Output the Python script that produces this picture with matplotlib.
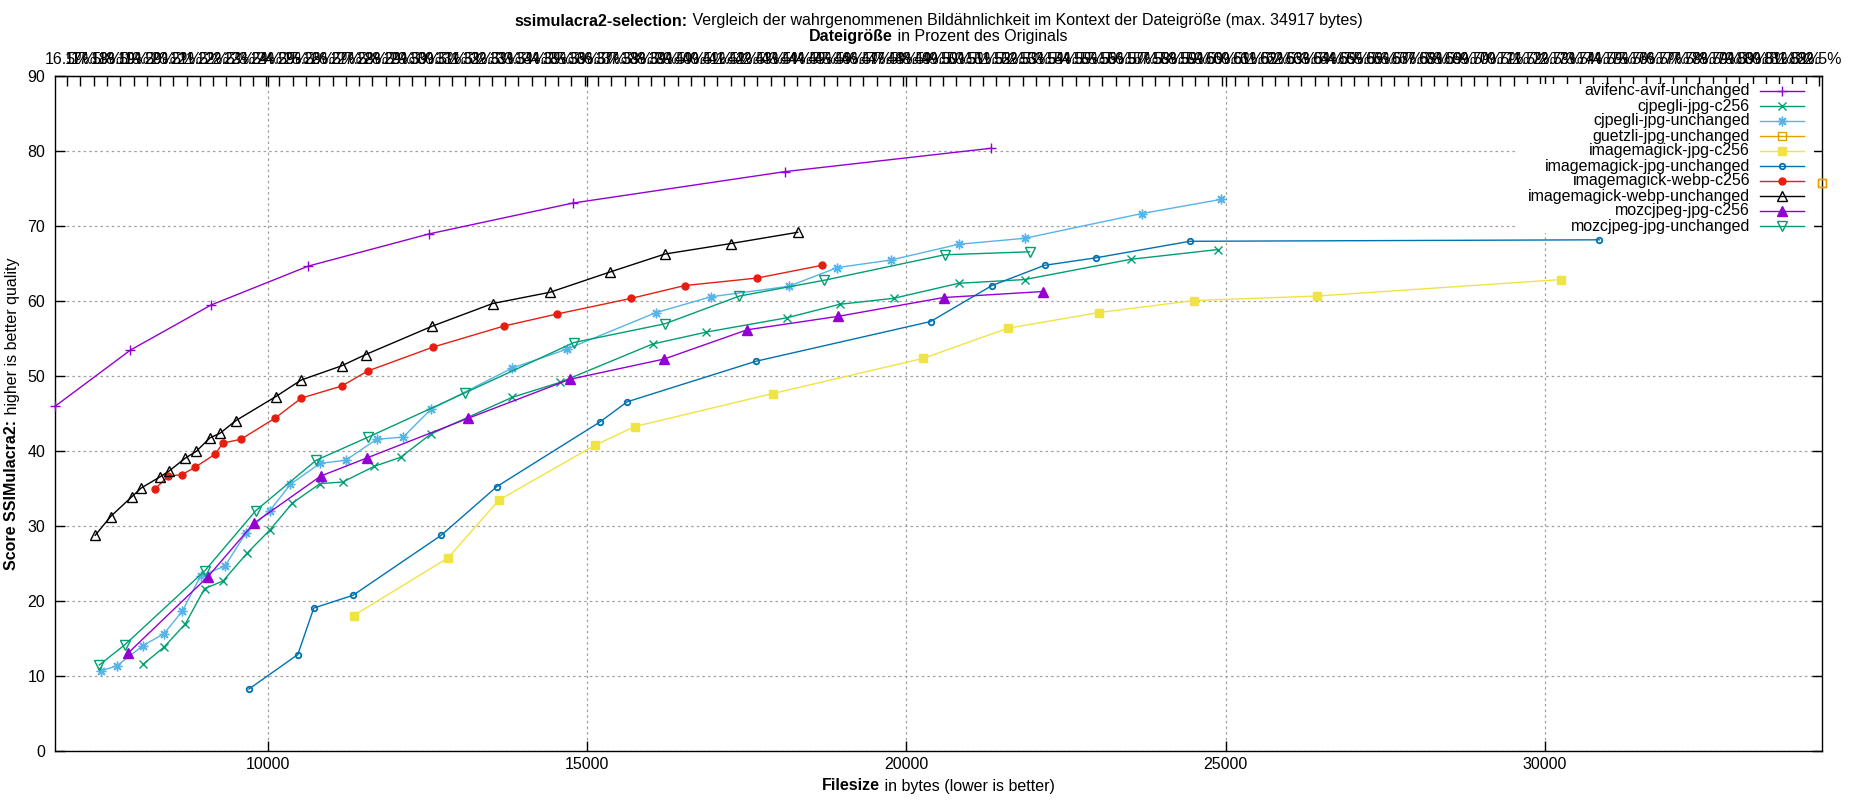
import matplotlib
matplotlib.use("Agg")
import matplotlib.pyplot as plt
import matplotlib.ticker as ticker
from matplotlib.lines import Line2D
from matplotlib.patches import Rectangle

plt.rcParams['font.family'] = ['Liberation Sans', 'DejaVu Sans']
plt.rcParams['font.size'] = 11.5

# values (filesize in bytes, ssimulacra2 score)
avif_x = [6667, 7849, 9109, 10635, 12531, 14776, 18105, 21320]
avif_y = [46.0, 53.5, 59.5, 64.7, 69.0, 73.1, 77.3, 80.4]

cjpegli_c256_x = [8047, 8375, 8708, 9010, 9297, 9672, 10031, 10385, 10818, 11172, 11667, 12078,
                  12552, 13826, 14577, 16023, 16868, 18125, 18954, 19800, 20815, 21850, 23511, 24875]
cjpegli_c256_y = [11.6, 13.9, 17.0, 21.7, 22.7, 26.4, 29.5, 33.1, 35.7, 35.9, 38.0, 39.2,
                  42.3, 47.2, 49.2, 54.3, 55.9, 57.8, 59.6, 60.4, 62.4, 62.9, 65.6, 66.9]

cjpegli_unch_x = [7380, 7636, 8047, 8375, 8661, 8948, 9328, 9656, 10031, 10354, 10818, 11219, 11703,
                  12120, 12552, 13826, 14677, 16080, 16936, 18156, 18918, 19753, 20815, 21850, 23684, 24932]
cjpegli_unch_y = [10.7, 11.4, 14.1, 15.7, 18.7, 23.4, 24.7, 29.1, 32.1, 35.6, 38.4, 38.8, 41.6,
                  41.9, 45.6, 51.1, 53.6, 58.5, 60.6, 62.0, 64.5, 65.5, 67.6, 68.4, 71.7, 73.6]

guetzli_x = [34340]
guetzli_y = [75.8]

im_jpg_c256_x = [11344, 12823, 13617, 15120, 15746, 17906, 20266, 21583, 23010, 24499, 26427, 30251]
im_jpg_c256_y = [18.1, 25.8, 33.5, 40.8, 43.3, 47.7, 52.4, 56.4, 58.5, 60.1, 60.7, 62.9]

im_jpg_unch_x = [9703, 10469, 10719, 11333, 12714, 13586, 15198, 15626, 17640, 20376, 21338, 22163,
                 22968, 24436, 30847]
im_jpg_unch_y = [8.3, 12.9, 19.1, 20.8, 28.8, 35.3, 43.9, 46.6, 52.0, 57.3, 62.1, 64.8, 65.8, 68.0, 68.2]

webp_c256_x = [8234, 8443, 8656, 8865, 9172, 9297, 9578, 10109, 10526, 11156, 11562, 12588,
               13696, 14525, 15694, 16529, 17661, 18678]
webp_c256_y = [35.0, 36.7, 36.9, 37.9, 39.6, 41.1, 41.6, 44.4, 47.1, 48.7, 50.7, 53.9,
               56.7, 58.3, 60.4, 62.1, 63.1, 64.8]

webp_unch_x = [7297, 7537, 7865, 8016, 8313, 8458, 8708, 8880, 9094, 9250, 9500, 10125, 10521,
               11156, 11531, 12578, 13518, 14416, 15355, 16216, 17249, 18297]
webp_unch_y = [28.8, 31.3, 33.9, 35.1, 36.6, 37.4, 39.1, 40.0, 41.8, 42.4, 44.1, 47.3, 49.5,
               51.4, 52.9, 56.7, 59.7, 61.2, 63.9, 66.3, 67.7, 69.2]

moz_c256_x = [7812, 9063, 9781, 10828, 11547, 13135, 14729, 16205, 17504, 18934, 20580, 22132]
moz_c256_y = [13.1, 23.3, 30.4, 36.7, 39.1, 44.4, 49.6, 52.3, 56.2, 58.0, 60.5, 61.3]

moz_unch_x = [7359, 7760, 9016, 9812, 10755, 11573, 13088, 14791, 16216, 17384, 18709, 20596, 21928]
moz_unch_y = [11.5, 14.2, 24.1, 32.1, 38.8, 41.9, 47.8, 54.5, 57.0, 60.7, 62.8, 66.2, 66.6]

ORIGINAL_BYTES = 41560

series = [
    ('avifenc-avif-unchanged', avif_x, avif_y, '#9400d3', dict(marker='+', ms=7)),
    ('cjpegli-jpg-c256', cjpegli_c256_x, cjpegli_c256_y, '#009e73', dict(marker='x', ms=5.5)),
    ('cjpegli-jpg-unchanged', cjpegli_unch_x, cjpegli_unch_y, '#56b4e9', dict(marker=(8, 2, 0), ms=7)),
    ('guetzli-jpg-unchanged', guetzli_x, guetzli_y, '#e69f00', dict(marker='s', ms=5.5, mfc='none')),
    ('imagemagick-jpg-c256', im_jpg_c256_x, im_jpg_c256_y, '#f0e442', dict(marker='s', ms=5.5)),
    ('imagemagick-jpg-unchanged', im_jpg_unch_x, im_jpg_unch_y, '#0072b2', dict(marker='o', ms=4, mfc='none', mew=1.3)),
    ('imagemagick-webp-c256', webp_c256_x, webp_c256_y, '#e51e10', dict(marker='o', ms=5)),
    ('imagemagick-webp-unchanged', webp_unch_x, webp_unch_y, 'black', dict(marker='^', ms=6.5, mfc='none')),
    ('mozcjpeg-jpg-c256', moz_c256_x, moz_c256_y, '#9400d3', dict(marker='^', ms=6.5)),
    ('mozcjpeg-jpg-unchanged', moz_unch_x, moz_unch_y, '#009e73', dict(marker='v', ms=6.5, mfc='none')),
]


def style(mk):
    st = dict(lw=1, mew=1)
    st.update(mk)
    return st


W, H = 1850, 800
fig = plt.figure(figsize=(W / 100, H / 100), dpi=100)
ax = fig.add_axes([55 / W, 1 - 751.3 / H, (1822.3 - 55) / W, (751.3 - 76.3) / H])

for name, xs, ys, col, mk in series:
    ax.plot(xs, ys, color=col, zorder=3, clip_on=False, **style(mk))

allx = [v for s in series for v in s[1]]
ax.set_xlim(min(allx), max(allx))
ax.set_ylim(0, 90)

ax.xaxis.set_major_locator(ticker.MultipleLocator(5000))
ax.yaxis.set_major_locator(ticker.MultipleLocator(10))
ax.grid(True, color='#a0a0a0', linestyle=(0, (2, 2.5)), lw=0.9)
ax.tick_params(direction='in', length=7, width=1, top=True, right=True, labelsize=11.5)
ax.tick_params(axis='x', pad=4)
ax.tick_params(axis='y', pad=7)
for sp in ax.spines.values():
    sp.set_linewidth(1)

sec = ax.secondary_xaxis('top', functions=(lambda x: x / ORIGINAL_BYTES * 100,
                                           lambda p: p * ORIGINAL_BYTES / 100))
sec.xaxis.set_major_locator(ticker.MultipleLocator(0.5))
sec.xaxis.set_major_formatter(ticker.FuncFormatter(lambda v, p: f'{v:g}%'))
sec.tick_params(direction='in', length=7, width=1, pad=7, labelsize=11.5)

# legend (gnuplot style: text right-aligned, sample on the right)
fig.add_artist(Rectangle((1517 / W, 1 - 233 / H), (1814 - 1517) / W, (233 - 84) / H,
                         transform=fig.transFigure, facecolor='white', edgecolor='none', zorder=1))
for i, (name, xs, ys, col, mk) in enumerate(series):
    yy = 1 - (91 + 15 * i) / H
    fig.text(1750 / W, yy, name, ha='right', va='center', zorder=3)
    fig.add_artist(Line2D([1760 / W, 1782 / W, 1804 / W], [yy] * 3, color=col,
                          markevery=[1], transform=fig.transFigure, zorder=3, **style(mk)))

# guetzli point sits on the border, above the legend box
ax.plot(guetzli_x, guetzli_y, ls='none', color='#e69f00', marker='s', ms=5.5, mfc='none', mew=1,
        zorder=10, clip_on=False)


def rich(x_px, y_px, parts, rotation=0):
    # draw bold/normal pieces next to each other, centred on (x_px, y_px)
    r = fig.canvas.get_renderer()
    widths = []
    for s, wgt in parts:
        t = fig.text(0, 0, s, fontweight=wgt)
        widths.append(t.get_window_extent(r).width)
        t.remove()
    pos = -sum(widths) / 2
    for (s, wgt), w in zip(parts, widths):
        if rotation == 0:
            fig.text((x_px + pos) / W, 1 - y_px / H, s, fontweight=wgt, ha='left', va='center')
        else:
            fig.text(x_px / W, 1 - (y_px - pos) / H, s, fontweight=wgt, ha='left', va='center',
                     rotation=90, rotation_mode='anchor')
        pos += w


fig.canvas.draw()
rich(938.5, 21, [('ssimulacra2-selection:', 'bold'),
                 (' Vergleich der wahrgenommenen Bildähnlichkeit im Kontext der Dateigröße (max. 34917 bytes)', 'normal')])
rich(938.5, 37, [('Dateigröße', 'bold'), (' in Prozent des Originals', 'normal')])
rich(938.5, 786, [('Filesize', 'bold'), (' in bytes (lower is better)', 'normal')])
rich(12, 413.8, [('Score SSIMulacra2:', 'bold'), (' higher is better quality', 'normal')], rotation=90)

fig.savefig('out.png', dpi=100)
